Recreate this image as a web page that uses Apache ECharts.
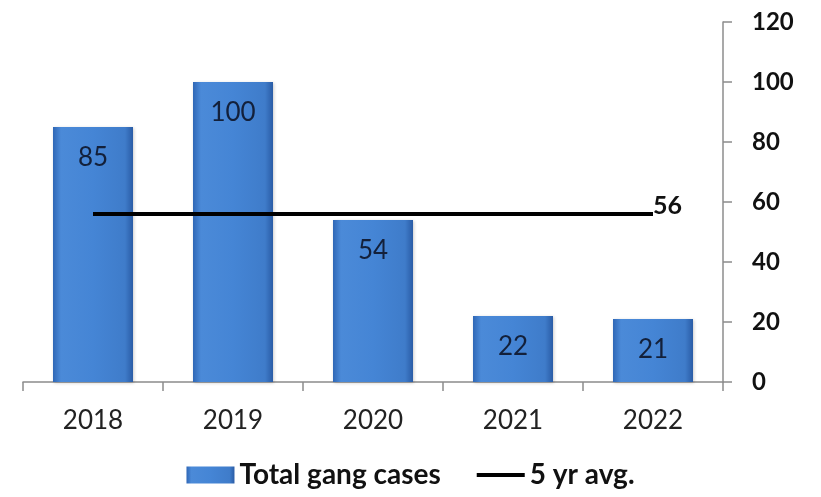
<!DOCTYPE html>
<html><head><meta charset="utf-8">
<script src="https://cdn.jsdelivr.net/npm/echarts@6/dist/echarts.min.js"></script>
<style>html,body{margin:0;padding:0;background:#fff}#c{width:821px;height:497px}</style>
</head><body><div id="c"></div>
<script>
const categories = ['2018', '2019', '2020', '2021', '2022'];
const totalGangCases = [85, 100, 54, 22, 21];
const fiveYrAvg = [56, 56, 56, 56, 56];
const yTicks = [0, 20, 40, 60, 80, 100, 120];

const FONT = 'Lato';
const barGrad = new echarts.graphic.LinearGradient(0, 0, 1, 0, [
  {offset: 0, color: '#2f67b6'},
  {offset: 0.1, color: '#4b8ad8'},
  {offset: 0.5, color: '#4585d5'},
  {offset: 0.9, color: '#3f7cca'},
  {offset: 1, color: '#2a5ca6'}
]);

const chart = echarts.init(document.getElementById('c'));
chart.setOption({
  animation: false,
  textStyle: {fontFamily: FONT},
  grid: {left: 23, right: 98, top: 22, bottom: 115},
  legend: {
    bottom: 3, left: 'center', itemGap: 34, itemWidth: 48, itemHeight: 17,
    textStyle: {fontFamily: FONT, fontSize: 28, fontWeight: 'bold', color: '#111'},
    data: [
      {name: 'Total gang cases', icon: 'rect'},
      {name: '5 yr avg.', itemStyle: {color: 'rgba(0,0,0,0)', borderWidth: 0, opacity: 0},
       lineStyle: {color: '#000', width: 4}}
    ]
  },
  xAxis: {
    type: 'category', data: categories,
    axisLine: {lineStyle: {color: '#8c8c8c', width: 1.5}},
    axisTick: {show: true, length: 9, lineStyle: {color: '#8c8c8c', width: 1.5}},
    axisLabel: {fontSize: 26, color: '#222', margin: 26, fontFamily: FONT}
  },
  yAxis: {
    type: 'value', position: 'right', min: 0, max: 120, interval: 20,
    axisLine: {show: true, lineStyle: {color: '#8c8c8c', width: 1.5}},
    axisTick: {show: true, length: 9, lineStyle: {color: '#8c8c8c', width: 1.5}},
    splitLine: {show: false},
    axisLabel: {fontSize: 24, fontWeight: 'bold', color: '#111', margin: 29, fontFamily: FONT,
      formatter: v => yTicks.includes(v) ? String(v) : ''}
  },
  series: [
    {
      name: 'Total gang cases', type: 'bar', data: totalGangCases, barWidth: 80,
      itemStyle: {color: barGrad,
        shadowColor: 'rgba(0,0,0,0.2)', shadowBlur: 3, shadowOffsetX: 1, shadowOffsetY: 1},
      label: {show: true, position: 'insideTop', distance: 18, fontSize: 26, color: '#13203a', fontFamily: FONT}
    },
    {
      name: '5 yr avg.', type: 'line', data: fiveYrAvg, symbol: 'none',
      lineStyle: {color: '#000', width: 4}, itemStyle: {color: '#000'},
      endLabel: {show: true, distance: 0, offset: [0, -8], fontSize: 25, fontWeight: 'bold', color: '#111', fontFamily: FONT,
        formatter: p => String(p.value)}
    }
  ]
});
</script></body></html>
